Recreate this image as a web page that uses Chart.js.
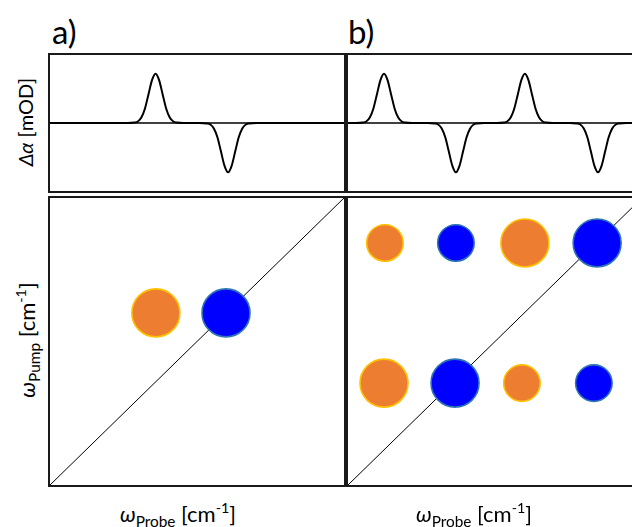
<!DOCTYPE html>
<html>
<head>
<meta charset="utf-8">
<script src="https://cdn.jsdelivr.net/npm/chart.js@4/dist/chart.umd.min.js"></script>
<style>
  html, body { margin:0; padding:0; background:#fff; width:632px; height:527px; overflow:hidden; position:relative; }
  canvas { position:absolute; }
  .lbl { position:absolute; font-family: Lato, "Open Sans", sans-serif; color:#000; white-space:nowrap; line-height:1; }
  .rot { transform: translate(-50%,-50%) rotate(-90deg); }
  .hc { transform: translate(-50%,-50%); }
  .it { font-style: italic; }
  sub { font-size: 0.7em; vertical-align: -0.3em; line-height:0; }
  sup { font-size: 0.65em; vertical-align: 0.6em; line-height:0; }
</style>
</head>
<body>
<canvas id="specA" width="300" height="142" style="left:47px; top:52px;"></canvas>
<canvas id="specB" width="300" height="142" style="left:345px; top:52px;"></canvas>
<canvas id="mapA" width="300" height="293" style="left:47px; top:195px;"></canvas>
<canvas id="mapB" width="300" height="293" style="left:345px; top:195px;"></canvas>

<div class="lbl" style="left:52px; top:15px; font-size:33px;">a)</div>
<div class="lbl" style="left:348px; top:15px; font-size:33px;">b)</div>
<div class="lbl rot" style="left:25px; top:122px; font-size:20px;"><span class="it">Δα</span> [mOD]</div>
<div class="lbl rot" style="left:27px; top:340px; font-size:22px;"><span class="it">ω</span><sub>Pump</sub> [cm<sup>-1</sup>]</div>
<div class="lbl hc" style="left:178px; top:514px; font-size:22px;"><span class="it">ω</span><sub>Probe</sub> [cm<sup>-1</sup>]</div>
<div class="lbl hc" style="left:474px; top:514px; font-size:22px;"><span class="it">ω</span><sub>Probe</sub> [cm<sup>-1</sup>]</div>

<script>
// ---------- data ----------
const probeRange = [0, 100];
const pumpRange = [0, 100];
const signalRange = [-1.4, 1.4];

// 1D pump-probe spectra: peak positions (probe axis) and signs/amplitudes
const peakCentersA = [36, 60.5];
const peakAmpsA = [1, -1];
const peakCentersB = [12.5, 36.8, 60.1, 84.8];
const peakAmpsB = [1, -1, 1, -1];
// line shape of a single peak (offset in probe units, relative height)
const peakShapeOffsets = [-9.5, -7.2, -6, -4.8, -3.6, -2.4, -1.2, 0, 1.2, 2.4, 3.6, 4.8, 6, 7.2, 9.5];
const peakShapeValues  = [0, 0.01, 0.03, 0.11, 0.29, 0.58, 0.87, 1, 0.87, 0.58, 0.29, 0.11, 0.03, 0.01, 0];

// 2D spectra: cross/diagonal peaks
const probeA = [36.1, 59.8];
const pumpA = [59.9, 59.9];
const intensityA = [1, 1];
const signA = [1, -1];

const probeB = [12.8, 36.8, 60.1, 84.5, 12.5, 36.5, 59.1, 83.4];
const pumpB = [84.1, 84.1, 84.1, 84.1, 35.6, 35.6, 35.6, 35.6];
const intensityB = [0.76, 0.76, 1, 1, 1, 1, 0.76, 0.76];
const signB = [1, -1, 1, -1, 1, -1, 1, -1];

// ---------- styles ----------
const posFill = '#ED7D31', posEdge = '#FFC000';
const negFill = '#0000FF', negEdge = '#2E75B6';
const maxRadius = 24;

function buildCurve(centers, amps) {
  const pts = [{x: probeRange[0], y: 0}];
  centers.forEach((c, i) => {
    peakShapeOffsets.forEach((o, j) => pts.push({x: c + o, y: amps[i] * peakShapeValues[j]}));
  });
  pts.push({x: probeRange[1], y: 0});
  return pts;
}

const framePlugin = {
  id: 'frame',
  afterDraw(chart) {
    const {ctx, chartArea: a} = chart;
    ctx.save();
    ctx.strokeStyle = '#1a1a1a';
    ctx.lineWidth = 2;
    ctx.strokeRect(a.left, a.top, a.right - a.left, a.bottom - a.top);
    ctx.restore();
  }
};

const baseOpts = (ymin, ymax) => ({
  responsive: false,
  animation: false,
  events: [],
  layout: { padding: 2, autoPadding: false },
  plugins: { legend: { display: false }, tooltip: { enabled: false } },
  scales: {
    x: { type: 'linear', min: probeRange[0], max: probeRange[1], display: false },
    y: { type: 'linear', min: ymin, max: ymax, display: false }
  }
});

function makeSpectrum(id, centers, amps) {
  new Chart(document.getElementById(id), {
    type: 'line',
    data: {
      datasets: [
        { data: buildCurve(centers, amps), borderColor: '#000', borderWidth: 2, pointRadius: 0,
          cubicInterpolationMode: 'monotone', fill: false, order: 1 },
        { data: [{x: probeRange[0], y: 0}, {x: probeRange[1], y: 0}], borderColor: '#000',
          borderWidth: 1.3, pointRadius: 0, order: 2 }
      ]
    },
    options: baseOpts(signalRange[0], signalRange[1]),
    plugins: [framePlugin]
  });
}

function makeMap(id, probe, pump, intensity, sign) {
  const pts = probe.map((x, i) => ({x: x, y: pump[i], r: intensity[i] * maxRadius}));
  new Chart(document.getElementById(id), {
    type: 'bubble',
    data: {
      datasets: [
        { data: pts,
          backgroundColor: sign.map(s => s > 0 ? posFill : negFill),
          borderColor: sign.map(s => s > 0 ? posEdge : negEdge),
          borderWidth: 1.6, order: 1 },
        { type: 'line', data: [{x: probeRange[0], y: pumpRange[0]}, {x: probeRange[1], y: pumpRange[1]}],
          borderColor: '#000', borderWidth: 1, pointRadius: 0, order: 2 }
      ]
    },
    options: baseOpts(pumpRange[0], pumpRange[1]),
    plugins: [framePlugin]
  });
}

makeSpectrum('specA', peakCentersA, peakAmpsA);
makeSpectrum('specB', peakCentersB, peakAmpsB);
makeMap('mapA', probeA, pumpA, intensityA, signA);
makeMap('mapB', probeB, pumpB, intensityB, signB);
</script>
</body>
</html>
